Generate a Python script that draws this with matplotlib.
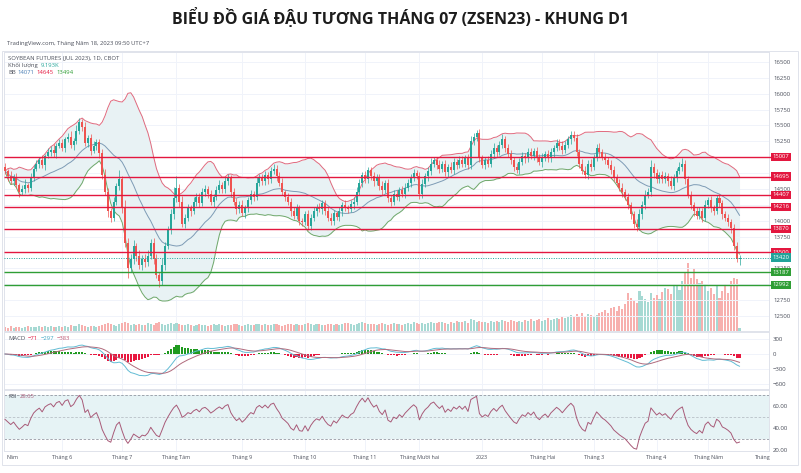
import numpy as np
import pandas as pd
import matplotlib
matplotlib.use("Agg")
import matplotlib.pyplot as plt
from matplotlib import transforms
from matplotlib.patches import Rectangle

plt.rcParams['font.family'] = ['Open Sans', 'DejaVu Sans']

# ---- daily data, ZSEN23 (soybean futures, July 2023) ----
first_open = 14850
close = [
    14780, 14700, 14620, 14680, 14560, 14450, 14500, 14560, 14520, 14680,
    14820, 14900, 14960, 14880, 15020, 15080, 15120, 15060, 15180, 15220,
    15150, 15280, 15320, 15200, 15260, 15420, 15560, 15480, 15220, 15300,
    15100, 15180, 15240, 15060, 14720, 14450, 14150, 14050, 14300, 14550,
    14650, 14200, 13650, 13250, 13400, 13600, 13450, 13300, 13400, 13350,
    13450, 13650, 13400, 13150, 13050, 13300, 13600, 13850, 14100, 14350,
    14520, 14300, 13950, 14050, 14200, 14150, 14300, 14380, 14280, 14450,
    14500, 14420, 14300, 14380, 14480, 14560, 14500, 14620, 14680, 14450,
    14300, 14180, 14250, 14120, 14200, 14320, 14420, 14380, 14600, 14680,
    14620, 14720, 14650, 14780, 14820, 14700, 14600, 14450, 14380, 14300,
    14150, 14080, 14200, 14000, 13980, 14100, 13920, 14050, 14150, 14220,
    14180, 14280, 14150, 14050, 14000, 14120, 14060, 14150, 14250, 14200,
    14180, 14260, 14300, 14450, 14600, 14720, 14650, 14800, 14700, 14620,
    14680, 14550, 14480, 14600, 14350, 14300, 14420, 14380, 14480, 14420,
    14520, 14600, 14680, 14750, 14700, 14420, 14580, 14700, 14780, 14900,
    14950, 14880, 14820, 14900, 14760, 14850, 14800, 14920, 14880, 14960,
    14900, 14980, 14880, 15250, 15320, 15380, 14980, 14880, 14950, 14900,
    15050, 15150, 15080, 15200, 15280, 15150, 15050, 14950, 14850, 14800,
    14920, 15020, 14980, 15080, 15020, 15100, 14980, 14920, 15000, 15050,
    14980, 15080, 15150, 15220, 15180, 15120, 15200, 15280, 15350, 15300,
    15080, 14900, 14780, 14720, 14900, 14850, 15000, 15150, 15080, 15000,
    14950, 14880, 14800, 14680, 14600, 14520, 14450, 14380, 14250, 14100,
    13950, 13900, 14100, 14250, 14400, 14450, 14850, 14750, 14650, 14720,
    14650, 14700, 14620, 14550, 14680, 14780, 14850, 14900, 14650, 14400,
    14250, 14150, 14080, 14150, 14050, 14250, 14320, 14200, 14150, 14350,
    14280, 14100, 14050, 13980, 13880, 13600, 13400, 13420,
]
wick_up = [
    60, 40, 80, 50, 70, 30, 60, 90, 40, 70,
    50, 60, 40, 80, 30, 70, 50, 90, 40, 60,
    70, 40, 60, 90, 50, 80, 60, 40, 70, 50,
    60, 80, 40, 50, 70, 90, 60, 50, 80, 40,
    150, 60, 120, 80, 70, 100, 50, 90, 60, 80,
    90, 60, 70, 80, 50, 110, 60, 70, 90, 180,
    180, 60, 90, 50, 70, 40, 80, 60, 50, 70,
    60, 50, 70, 40, 60, 80, 50, 70, 60, 40,
    70, 50, 60, 80, 40, 60, 70, 50, 90, 60,
    60, 70, 50, 60, 80, 50, 60, 70, 40, 60,
    50, 60, 70, 40, 50, 60, 70, 50, 60, 40,
    60, 50, 40, 60, 70, 50, 40, 60, 50, 70,
    50, 60, 70, 80, 60, 50, 60, 40, 50, 70,
    60, 50, 70, 40, 60, 50, 70, 60, 50, 60,
    70, 50, 60, 70, 50, 60, 70, 50, 60, 80,
    60, 50, 70, 40, 60, 50, 70, 60, 50, 60,
    60, 50, 70, 80, 60, 50, 70, 60, 50, 70,
    60, 70, 50, 60, 80, 50, 60, 70, 50, 60,
    70, 60, 50, 60, 70, 50, 60, 70, 60, 50,
    60, 70, 50, 60, 70, 80, 60, 50, 70, 60,
    60, 50, 70, 80, 60, 70, 50, 60, 70, 50,
    60, 50, 70, 60, 50, 60, 70, 50, 60, 50,
    60, 70, 80, 60, 90, 70, 100, 60, 70, 50,
    60, 70, 50, 80, 60, 50, 70, 90, 60, 50,
    60, 50, 70, 60, 50, 80, 60, 70, 50, 60,
    70, 50, 60, 60, 50, 70, 60, 40,
]
wick_dn = [
    50, 70, 40, 60, 50, 80, 40, 60, 70, 50,
    60, 40, 70, 50, 80, 40, 60, 50, 70, 40,
    50, 70, 40, 60, 80, 50, 60, 70, 40, 60,
    60, 40, 70, 80, 60, 50, 90, 70, 50, 60,
    60, 80, 70, 150, 60, 80, 90, 60, 70, 80,
    70, 60, 80, 60, 100, 60, 70, 50, 60, 70,
    60, 80, 50, 70, 60, 80, 50, 70, 60, 50,
    60, 70, 50, 80, 60, 50, 70, 60, 50, 70,
    50, 70, 60, 50, 70, 60, 50, 70, 60, 50,
    60, 50, 70, 60, 50, 70, 60, 50, 70, 60,
    70, 60, 50, 70, 60, 50, 70, 60, 50, 70,
    50, 70, 60, 50, 70, 60, 50, 60, 70, 50,
    60, 50, 70, 60, 50, 70, 60, 50, 60, 70,
    50, 60, 70, 50, 60, 70, 50, 60, 70, 50,
    60, 50, 70, 60, 50, 80, 60, 50, 70, 60,
    50, 60, 70, 50, 60, 70, 50, 60, 70, 50,
    60, 50, 70, 60, 50, 70, 60, 50, 70, 60,
    50, 60, 70, 50, 60, 70, 50, 60, 70, 50,
    60, 50, 70, 60, 50, 70, 60, 50, 70, 60,
    50, 60, 70, 50, 60, 70, 50, 60, 70, 50,
    60, 70, 50, 40, 60, 70, 50, 60, 70, 50,
    60, 50, 70, 60, 50, 60, 70, 50, 60, 80,
    60, 60, 50, 70, 60, 50, 60, 70, 50, 60,
    50, 60, 70, 50, 60, 70, 50, 60, 70, 50,
    60, 70, 50, 60, 70, 60, 50, 70, 60, 50,
    60, 70, 50, 60, 70, 60, 50, 90,
]
volume_k = [
    12, 10, 14, 9, 11, 13, 10, 12, 15, 11,
    13, 12, 16, 11, 14, 12, 15, 13, 11, 14,
    12, 15, 13, 18, 16, 14, 20, 17, 15, 13,
    14, 16, 12, 15, 18, 22, 24, 20, 18, 16,
    21, 25, 28, 24, 19, 22, 18, 20, 17, 19,
    23, 20, 18, 24, 26, 21, 19, 22, 25, 20,
    24, 21, 18, 17, 20, 19, 16, 18, 21, 17,
    19, 16, 18, 20, 17, 21, 18, 16, 19, 17,
    20, 22, 18, 16, 19, 21, 17, 18, 22, 20,
    18, 21, 19, 17, 20, 22, 18, 16, 19, 21,
    20, 18, 22, 19, 17, 20, 23, 21, 18, 20,
    22, 19, 17, 21, 20, 18, 22, 19, 21, 23,
    24, 21, 19, 22, 25, 27, 23, 20, 22, 21,
    19, 22, 24, 20, 18, 21, 23, 20, 22, 19,
    21, 24, 22, 26, 23, 20, 25, 22, 24, 27,
    25, 23, 28, 26, 24, 22, 27, 25, 30, 28,
    26, 29, 24, 36, 32, 27, 30, 26, 28, 25,
    29, 27, 31, 28, 34, 30, 27, 32, 29, 26,
    31, 28, 33, 30, 35, 29, 32, 36, 30, 34,
    38, 33, 36, 40, 35, 42, 38, 45, 48, 41,
    52, 46, 55, 44, 50, 48, 42, 47, 53, 58,
    62, 55, 68, 72, 60, 75, 66, 80, 114, 98,
    92, 85, 120, 105, 95, 88, 115, 100, 108, 96,
    118, 130, 125, 110, 140, 135, 122, 150, 175, 204,
    160, 190, 155, 145, 150, 140, 120, 130, 110, 135,
    100, 120, 140, 115, 150, 160, 155, 9.193,
]

month_pos = [2.5, 20, 41, 60, 83, 105, 126, 145, 167, 188, 206, 228, 246, 265]
month_lbl = ["Năm", "Tháng 6", "Tháng 7", "Tháng Tám", "Tháng 9", "Tháng 10",
             "Tháng 11", "Tháng Mười hai", "2023", "Tháng Hai", "Tháng 3",
             "Tháng 4", "Tháng Năm", "Tháng"]

red_levels = [15007, 14695, 14407, 14216, 13870, 13500]
green_levels = [13187, 12992]
last_price = 13420
price_ticks = [16500, 16250, 16000, 15750, 15500, 15250, 14500, 14000, 13750, 13250,
               12750, 12500]
grid_prices = list(range(12500, 16501, 250))
macd_ticks = [300, 0, -300, -600]
rsi_ticks = [60, 40, 20]

# ---- colours ----
UP = '#26a69a'
DN = '#ef5350'
LV_RED = '#e3173f'
LV_GREEN = '#2f9e35'
GRID = '#f0f3fa'
BORDER = '#e0e3eb'
TXT = '#4a4e5a'

# ---- indicators ----
c = np.array(close, float)
o = np.r_[first_open, c[:-1]]
hi = np.maximum(o, c) + np.array(wick_up)
lo = np.minimum(o, c) - np.array(wick_dn)
vol = np.array(volume_k, float)
n = len(c)
idx = np.arange(n)
s = pd.Series(c)

bb_mid = s.rolling(20, min_periods=1).mean()
bb_sd = s.rolling(20, min_periods=1).std(ddof=0)
bb_up = bb_mid + 2 * bb_sd
bb_dn = bb_mid - 2 * bb_sd

ema12 = s.ewm(span=12, adjust=False).mean()
ema26 = s.ewm(span=26, adjust=False).mean()
macd = ema12 - ema26
signal = macd.ewm(span=9, adjust=False).mean()
hist = macd - signal

# Wilder RSI(14), averages seeded neutral
delta = np.diff(np.r_[first_open, c])
avg_g, avg_l = 60.0, 60.0
rsi = np.empty(n)
for k, d in enumerate(delta):
    avg_g = (avg_g * 13 + max(d, 0)) / 14
    avg_l = (avg_l * 13 + max(-d, 0)) / 14
    rsi[k] = 100 - 100 / (1 + avg_g / avg_l)

# ---- figure layout (pixel based) ----
W, H = 801, 473
fig = plt.figure(figsize=(W / 100, H / 100), dpi=100)
fig.patch.set_facecolor('white')


def px_axes(x0, y0, x1, y1, **kw):
    return fig.add_axes([x0 / W, 1 - y1 / H, (x1 - x0) / W, (y1 - y0) / H], **kw)


def px_text(x, y, s, **kw):
    kw.setdefault('fontsize', 4.2)
    kw.setdefault('va', 'center')
    return fig.text(x / W, 1 - y / H, s, **kw)


X0 = (4 - 5) / 2.858
X1 = (769 - 5) / 2.858
XLAB = (773 - 5) / 2.858

axv = px_axes(4, 52, 769, 331)
ax = px_axes(4, 52, 769, 331)
axm = px_axes(4, 332, 769, 389)
axr = px_axes(4, 390, 769, 451)

for a in (axv, ax, axm, axr):
    a.set_xlim(X0, X1)
    a.set_xticks([])
    for sp in a.spines.values():
        sp.set_color(BORDER)
        sp.set_linewidth(0.7)
ax.patch.set_visible(False)
ax.set_zorder(2)
axv.set_zorder(1)
axv.set_yticks([])
for sp in axv.spines.values():
    sp.set_visible(False)

# grid
for a in (axv, axm, axr):
    for m in month_pos[1:-1]:
        a.axvline(m, color=GRID, lw=0.7, zorder=0)
ax.set_ylim(12263, 16657)
for p in grid_prices:
    ax.axhline(p, color=GRID, lw=0.7, zorder=0)

# volume
axv.set_ylim(0, 204 * 279 / 68)
vcol = np.where(c >= o, '#a6d9d3', '#f7b0ae')
axv.bar(idx, vol, width=0.72, color=vcol, lw=0)

# Bollinger bands
ax.fill_between(idx, bb_dn, bb_up, color='#e8f2f4', lw=0, zorder=1)
ax.plot(idx, bb_up, color='#e06a7e', lw=0.7, zorder=1.5)
ax.plot(idx, bb_dn, color='#6fa86a', lw=0.7, zorder=1.5)
ax.plot(idx, bb_mid, color='#7d9bb5', lw=0.7, zorder=1.5)

# candles
ccol = np.where(c >= o, UP, DN)
ax.vlines(idx, lo, hi, colors=ccol, lw=0.5, zorder=3)
ax.bar(idx, np.maximum(np.abs(c - o), 10), bottom=np.minimum(o, c), width=0.7,
       color=ccol, lw=0, zorder=3.1)

# price scale
ax.yaxis.tick_right()
ax.set_yticks(price_ticks)
ax.set_yticklabels([str(p) for p in price_ticks])
ax.tick_params(axis='y', length=0, pad=3, labelsize=4.3, labelcolor=TXT)

lab_tr = transforms.blended_transform_factory(fig.transFigure, ax.transData)


def level(value, color, ls='-', lw=1.0):
    ax.plot([X0, XLAB], [value, value], color=color, lw=lw, ls=ls,
            clip_on=False, zorder=4, solid_capstyle='butt')
    ax.text(772.5 / W, value, f"{value}", transform=lab_tr, ha='left', va='center',
            fontsize=4.2, color='white', zorder=6,
            bbox=dict(boxstyle='square,pad=0.28', fc=color, ec='none'))


for lv in red_levels:
    level(lv, LV_RED)
for lv in green_levels:
    level(lv, LV_GREEN)
level(last_price, '#22a39a', ls=(0, (1, 1.5)), lw=0.7)

# MACD panel
axm.set_ylim(-700, 440)
for t in macd_ticks:
    axm.axhline(t, color=GRID, lw=0.7, zorder=0)
hcol = np.where(hist >= 0, '#1f9a1f', '#e8173f')
axm.bar(idx, hist, width=0.72, color=hcol, lw=0, zorder=2)
axm.plot(idx, macd, color='#62bcd4', lw=0.7, zorder=3)
axm.plot(idx, signal, color='#b06a7c', lw=0.7, zorder=3)
axm.yaxis.tick_right()
axm.set_yticks(macd_ticks)
axm.set_yticklabels([str(t).replace('-', '\u2212') for t in macd_ticks])
axm.tick_params(axis='y', length=0, pad=3, labelsize=4.3, labelcolor=TXT)

# RSI panel
axr.set_ylim(19.1, 74.5)
axr.axhspan(30, 70, color='#e6f3f5', lw=0, zorder=0.5)
for lvl_, a_ in ((70, 0.9), (50, 0.5), (30, 0.9)):
    axr.axhline(lvl_, color='#8a8e99', lw=0.6, ls=(0, (3, 2)), alpha=a_, zorder=1)
axr.plot(idx, rsi, color='#a85a78', lw=0.7, zorder=3)
axr.yaxis.tick_right()
axr.set_yticks(rsi_ticks)
axr.set_yticklabels([f"{t:.2f}" for t in rsi_ticks])
axr.tick_params(axis='y', length=0, pad=3, labelsize=4.3, labelcolor=TXT)

# time axis labels
xtr = transforms.blended_transform_factory(axr.transData, fig.transFigure)
for pos, lbl in zip(month_pos, month_lbl):
    fig.text(pos, 1 - 457 / H, lbl, transform=xtr, ha='center', va='center',
             fontsize=3.9, color=TXT)

# outer frame
fig.add_artist(Rectangle((2 / W, 1 - 465 / H), 796 / W, 414 / H, transform=fig.transFigure,
                         fill=False, ec=BORDER, lw=0.7))

# title and legends
px_text(W / 2, 18, "BIỂU ĐỒ GIÁ ĐẬU TƯƠNG THÁNG 07 (ZSEN23) - KHUNG D1", ha='center',
        fontsize=11.5, fontweight='bold', color='#1c1c1c')
px_text(7, 43, "TradingView.com, Tháng Năm 18, 2023 09:50 UTC+7", color=TXT)
px_text(8, 58, "SOYBEAN FUTURES (JUL 2023), 1D, CBOT", color=TXT)
px_text(8, 65.5, "Khối lượng", color=TXT)
px_text(41, 65.5, "9.193K", color=UP)
px_text(8, 73, "BB", color=TXT)
px_text(17, 73, "14071", color='#4a7fb5')
px_text(36, 73, "14645", color=LV_RED)
px_text(56, 73, "13494", color=LV_GREEN)
px_text(8, 338, "MACD", color=TXT)
px_text(28, 338, "\u221271", color=LV_RED)
px_text(41, 338, "\u2212297", color='#3fa9c4')
px_text(57, 338, "\u2212383", color='#c0546e')
px_text(8, 397, "RSI", color=TXT)
px_text(20, 397, "28.65", color='#a85a78')

fig.savefig("out.png", dpi=100, facecolor='white')
